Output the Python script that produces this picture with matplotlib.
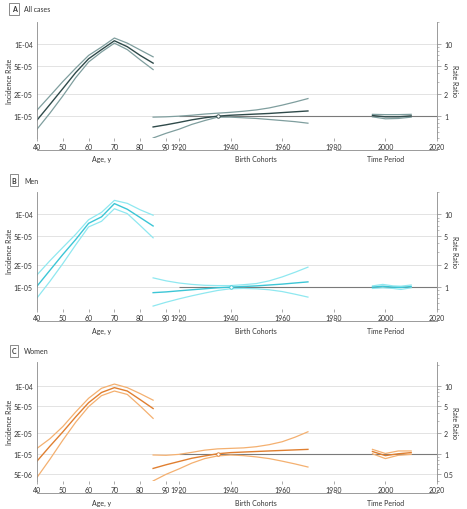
import numpy as np
import matplotlib
matplotlib.use("Agg")
import matplotlib.pyplot as plt
import matplotlib.transforms as mtransforms
from matplotlib.ticker import FixedLocator, LogLocator, NullFormatter

plt.rcParams['font.family'] = ['Lato', 'DejaVu Sans']

# DANE
age = [40, 45, 50, 55, 60, 65, 70, 75, 80, 85]
cohort = [1910, 1915, 1920, 1925, 1930, 1935, 1940, 1945, 1950, 1955, 1960, 1965, 1970]

# A - wszystkie przypadki
a_age_mid = [8.8e-6, 1.45e-5, 2.4e-5, 4.0e-5, 6.2e-5, 8.3e-5, 1.1e-4, 9.1e-5, 6.9e-5, 5.4e-5]
a_age_hi = [1.21e-5, 1.9e-5, 3.0e-5, 4.6e-5, 6.9e-5, 9.0e-5, 1.2e-4, 1.02e-4, 8.2e-5, 6.6e-5]
a_age_lo = [6.6e-6, 1.1e-5, 1.9e-5, 3.4e-5, 5.6e-5, 7.7e-5, 1.02e-4, 8.3e-5, 6.0e-5, 4.4e-5]
a_coh_mid = [0.71, 0.76, 0.82, 0.89, 0.95, 1.00, 1.03, 1.05, 1.07, 1.09, 1.12, 1.15, 1.18]
a_coh_hi = [0.97, 0.98, 1.00, 1.03, 1.07, 1.10, 1.13, 1.17, 1.22, 1.30, 1.42, 1.57, 1.75]
a_coh_lo = [0.50, 0.58, 0.66, 0.77, 0.87, 0.97, 0.97, 0.95, 0.93, 0.90, 0.87, 0.84, 0.80]
a_per = [1995, 2000, 2005, 2010]
a_per_mid = [1.02, 0.98, 0.98, 1.01]
a_per_hi = [1.06, 1.05, 1.05, 1.06]
a_per_lo = [0.98, 0.92, 0.93, 0.97]

# B - mezczyzni
b_age_mid = [1.03e-5, 1.7e-5, 2.8e-5, 4.5e-5, 7.5e-5, 9.2e-5, 1.4e-4, 1.17e-4, 9.0e-5, 6.9e-5]
b_age_hi = [1.47e-5, 2.3e-5, 3.5e-5, 5.3e-5, 8.4e-5, 1.06e-4, 1.55e-4, 1.41e-4, 1.15e-4, 9.7e-5]
b_age_lo = [7.1e-6, 1.2e-5, 2.1e-5, 3.8e-5, 6.7e-5, 8.0e-5, 1.19e-4, 1.02e-4, 7.0e-5, 4.75e-5]
b_coh_mid = [0.84, 0.86, 0.89, 0.92, 0.95, 0.98, 1.00, 1.02, 1.04, 1.07, 1.10, 1.14, 1.18]
b_coh_hi = [1.34, 1.22, 1.14, 1.09, 1.06, 1.05, 1.05, 1.08, 1.12, 1.22, 1.38, 1.60, 1.88]
b_coh_lo = [0.55, 0.62, 0.69, 0.76, 0.83, 0.90, 0.95, 0.96, 0.95, 0.92, 0.87, 0.80, 0.73]
b_per = [1995, 1999, 2003, 2006, 2010]
b_per_mid = [1.00, 1.03, 1.00, 0.99, 1.02]
b_per_hi = [1.04, 1.09, 1.04, 1.03, 1.07]
b_per_lo = [0.96, 0.98, 0.96, 0.93, 0.98]

# C - kobiety
c_age_mid = [7.8e-6, 1.29e-5, 2.09e-5, 3.47e-5, 5.6e-5, 7.9e-5, 9.3e-5, 8.3e-5, 6.2e-5, 4.6e-5]
c_age_hi = [1.2e-5, 1.66e-5, 2.5e-5, 4.1e-5, 6.5e-5, 9.1e-5, 1.05e-4, 9.3e-5, 7.6e-5, 6.1e-5]
c_age_lo = [4.5e-6, 8.3e-6, 1.58e-5, 2.9e-5, 4.9e-5, 7.1e-5, 8.3e-5, 7.4e-5, 5.0e-5, 3.3e-5]
c_coh_mid = [0.61, 0.69, 0.77, 0.86, 0.93, 1.00, 1.04, 1.06, 1.08, 1.10, 1.12, 1.14, 1.16]
c_coh_hi = [0.96, 0.95, 0.98, 1.05, 1.13, 1.18, 1.20, 1.22, 1.27, 1.36, 1.50, 1.75, 2.10]
c_coh_lo = [0.40, 0.50, 0.60, 0.73, 0.85, 0.93, 0.96, 0.94, 0.90, 0.85, 0.78, 0.71, 0.64]
c_per = [1995, 2000, 2005, 2010]
c_per_mid = [1.08, 0.94, 1.00, 1.04]
c_per_hi = [1.16, 1.01, 1.10, 1.10]
c_per_lo = [1.00, 0.85, 0.95, 0.98]

age_ticks = [40, 50, 60, 70, 80, 90]
cal_ticks = [1920, 1940, 1960, 1980, 2000, 2020]

# Przesuniecie osi kalendarzowej: 1920 stoi 5 jednostek za wiekiem 90
CAL_SHIFT = 1825
RR_REF = 1e-5

panels = [
    dict(letter="A", title="All cases", age_mid=a_age_mid, age_hi=a_age_hi, age_lo=a_age_lo,
         coh_mid=a_coh_mid, coh_hi=a_coh_hi, coh_lo=a_coh_lo,
         per=a_per, per_mid=a_per_mid, per_hi=a_per_hi, per_lo=a_per_lo,
         ref=1935, mid="#2f4a4a", ci="#7f9e9e", ylim=(5e-6, 2e-4),
         ir=[1e-5, 2e-5, 5e-5, 1e-4], ir_lab=["1E-05", "2E-05", "5E-05", "1E-04"],
         rr=[1, 2, 5, 10], rr_lab=["1", "2", "5", "10"],
         box=(0.0792, 0.7275, 0.8565, 0.2275), head_y=10),
    dict(letter="B", title="Men", age_mid=b_age_mid, age_hi=b_age_hi, age_lo=b_age_lo,
         coh_mid=b_coh_mid, coh_hi=b_coh_hi, coh_lo=b_coh_lo,
         per=b_per, per_mid=b_per_mid, per_hi=b_per_hi, per_lo=b_per_lo,
         ref=1940, mid="#3cc6d6", ci="#8fe8f0", ylim=(5e-6, 2e-4),
         ir=[1e-5, 2e-5, 5e-5, 1e-4], ir_lab=["1E-05", "2E-05", "5E-05", "1E-04"],
         rr=[1, 2, 5, 10], rr_lab=["1", "2", "5", "10"],
         box=(0.0792, 0.392, 0.8565, 0.229), head_y=181),
    dict(letter="C", title="Women", age_mid=c_age_mid, age_hi=c_age_hi, age_lo=c_age_lo,
         coh_mid=c_coh_mid, coh_hi=c_coh_hi, coh_lo=c_coh_lo,
         per=c_per, per_mid=c_per_mid, per_hi=c_per_hi, per_lo=c_per_lo,
         ref=1935, mid="#e07f30", ci="#f4b070", ylim=(4e-6, 2.2e-4),
         ir=[5e-6, 1e-5, 2e-5, 5e-5, 1e-4], ir_lab=["5E-06", "1E-05", "2E-05", "5E-05", "1E-04"],
         rr=[0.5, 1, 2, 5, 10], rr_lab=["0.5", "1", "2", "5", "10"],
         box=(0.0792, 0.055, 0.8565, 0.233), head_y=352),
]

W, H = 467, 510
fig = plt.figure(figsize=(W / 100, H / 100), dpi=100)
txt = "#333333"
spine_c = "#8a8a8a"
fs = 5

for p in panels:
    ax = fig.add_axes(p["box"])
    ax.set_yscale("log")
    ax.set_xlim(40, 2020 - CAL_SHIFT)
    ax.set_ylim(*p["ylim"])

    # siatka
    for v in p["ir"]:
        ax.axhline(v, color="#e3e3e3", lw=0.7, zorder=0)

    # wiek
    ax.plot(age, p["age_hi"], color=p["ci"], lw=0.9)
    ax.plot(age, p["age_lo"], color=p["ci"], lw=0.9)
    ax.plot(age, p["age_mid"], color=p["mid"], lw=1.0)

    ax.set_yticks(p["ir"])
    ax.set_yticklabels(p["ir_lab"])
    ax.yaxis.set_minor_locator(FixedLocator([]))
    ax.tick_params(axis="y", labelsize=fs, colors=txt, length=0, pad=3)
    ax.set_ylabel("Incidence Rate", fontsize=fs, color=txt, va="center")
    ax.yaxis.set_label_coords(-0.0675, 0.5)

    xt = age_ticks + [y - CAL_SHIFT for y in cal_ticks]
    ax.set_xticks(xt)
    ax.set_xticklabels([str(t) for t in age_ticks + cal_ticks])
    ax.tick_params(axis="x", labelsize=fs, colors=txt, length=2, width=0.5, pad=1.5)
    ax.tick_params(axis="x", color=spine_c)

    for s in ["top", "bottom", "right"]:
        ax.spines[s].set_visible(False)
    ax.spines["left"].set_color(spine_c)
    ax.spines["left"].set_linewidth(0.6)

    # os wspolczynnika ryzyka
    ax2 = ax.twinx()
    ax2.set_yscale("log")
    ax2.set_ylim(p["ylim"][0] / RR_REF, p["ylim"][1] / RR_REF)
    ax2.hlines(1, 1920 - CAL_SHIFT, 2020 - CAL_SHIFT, color="#7a7a7a", lw=0.8, zorder=1)

    coh_x = [c - CAL_SHIFT for c in cohort]
    per_x = [c - CAL_SHIFT for c in p["per"]]
    ax2.plot(coh_x, p["coh_hi"], color=p["ci"], lw=0.9)
    ax2.plot(coh_x, p["coh_lo"], color=p["ci"], lw=0.9)
    ax2.plot(coh_x, p["coh_mid"], color=p["mid"], lw=1.0)
    ax2.plot(per_x, p["per_hi"], color=p["ci"], lw=0.9)
    ax2.plot(per_x, p["per_lo"], color=p["ci"], lw=0.9)
    ax2.plot(per_x, p["per_mid"], color=p["mid"], lw=1.0)
    ax2.plot(p["ref"] - CAL_SHIFT, 1, "o", ms=2.5, mfc="white", mec=p["mid"], mew=0.6, zorder=5)

    ax2.set_yticks(p["rr"])
    ax2.set_yticklabels(p["rr_lab"])
    ax2.yaxis.set_minor_locator(LogLocator(base=10, subs=np.arange(2, 10) / 10))
    ax2.yaxis.set_minor_formatter(NullFormatter())
    ax2.tick_params(axis="y", which="major", labelsize=fs, colors=txt, length=3, width=0.5, pad=2)
    ax2.tick_params(axis="y", which="major", color=spine_c)
    ax2.tick_params(axis="y", which="minor", length=1.5, width=0.4, color=spine_c)
    ax2.set_ylabel("Rate Ratio", fontsize=fs, color=txt, rotation=-90, va="center")
    ax2.yaxis.set_label_coords(1.045, 0.5)
    for s in ["top", "bottom", "left"]:
        ax2.spines[s].set_visible(False)
    ax2.spines["right"].set_color(spine_c)
    ax2.spines["right"].set_linewidth(0.6)

    # klamry pod osia
    tr = mtransforms.blended_transform_factory(ax.transData, ax.transAxes)
    brackets = [(40, 90, 65, "Age, y"),
                (1920 - CAL_SHIFT, 1979 - CAL_SHIFT, 1950 - CAL_SHIFT, "Birth Cohorts"),
                (1981 - CAL_SHIFT, 2020 - CAL_SHIFT, 2000 - CAL_SHIFT, "Time Period")]
    for x0, x1, xm, lab in brackets:
        ax.plot([x0, x0, x1, x1], [-0.08, -0.10, -0.10, -0.08], color=spine_c, lw=0.6,
                transform=tr, clip_on=False)
        ax.text(xm, -0.18, lab, transform=tr, ha="center", va="center", fontsize=fs, color=txt)

    # naglowek panelu
    fig.text(14 / W, 1 - p["head_y"] / H, p["letter"], fontsize=fs, fontweight="bold", color=txt,
             ha="center", va="center",
             bbox=dict(boxstyle="square,pad=0.3", fc="white", ec="#777777", lw=0.6))
    fig.text(24 / W, 1 - p["head_y"] / H, p["title"], fontsize=fs, color=txt, ha="left", va="center")

fig.savefig("out.png", dpi=100)
